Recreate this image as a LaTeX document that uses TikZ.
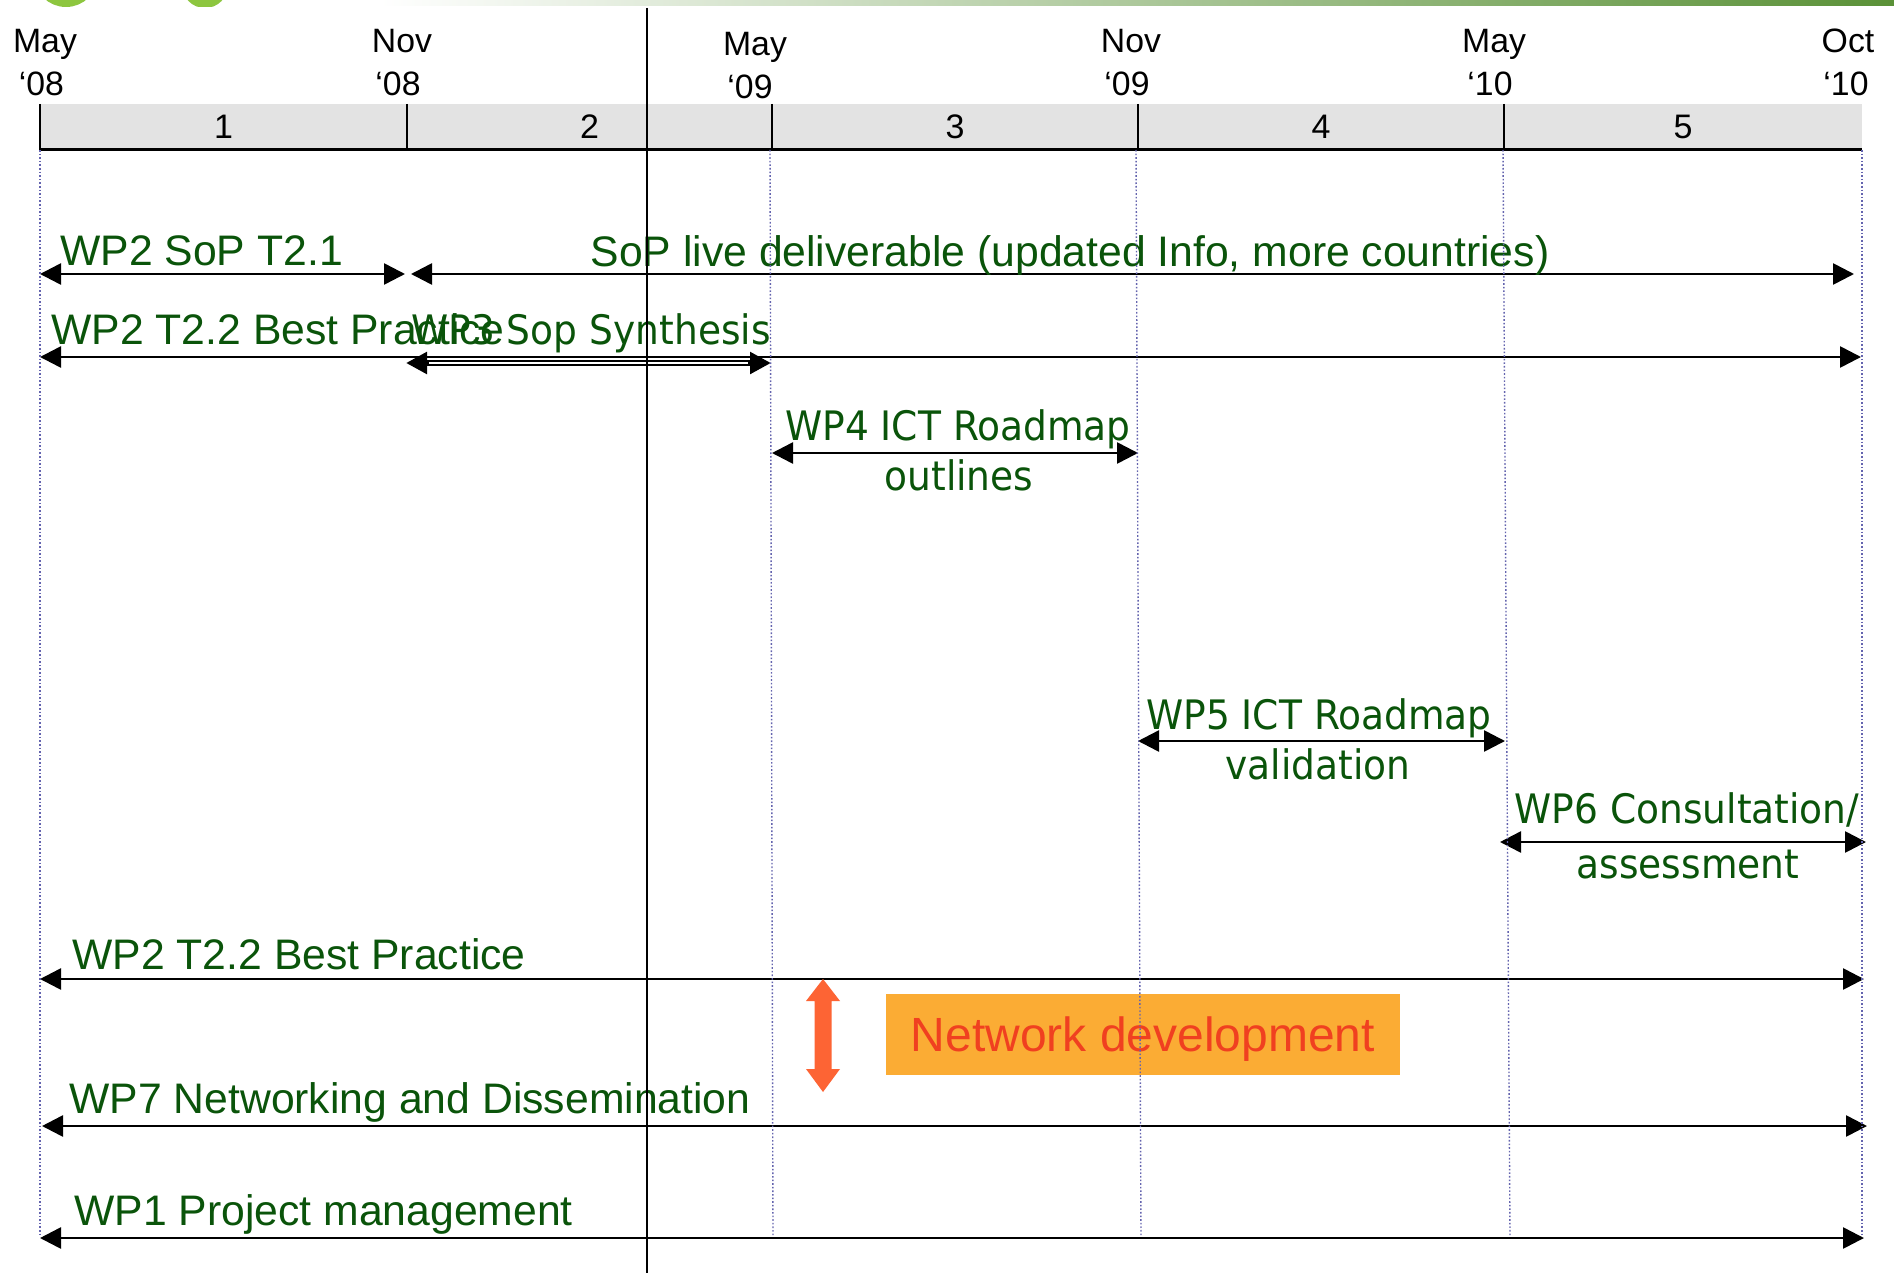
\documentclass[tikz,border=0pt]{standalone}
\usepackage{fontspec}
\setmainfont{Liberation Sans}
\newfontfamily\tahfont[FakeStretch=0.925]{DejaVu Sans}
\usetikzlibrary{arrows.meta}
\definecolor{wpgreen}{RGB}{10,84,10}
\definecolor{bargray}{RGB}{227,227,227}
\definecolor{dotblue}{RGB}{100,100,175}
\definecolor{boxorange}{RGB}{251,172,52}
\definecolor{netred}{RGB}{240,64,32}
\definecolor{blockorange}{RGB}{253,100,52}
\definecolor{bannergreen}{RGB}{90,145,55}
\definecolor{logogreen}{RGB}{141,198,63}
\begin{document}
\begin{tikzpicture}[x=0.5pt,y=-0.5pt,
  datelbl/.style={inner sep=0, anchor=base, font=\fontsize{16.9}{18}\selectfont},
  numlbl/.style={inner sep=0, font=\fontsize{17}{19}\selectfont},
  wplbl/.style={inner sep=0, anchor=base west, text=wpgreen, font=\fontsize{21.35}{24}\selectfont},
  wpclbl/.style={inner sep=0, anchor=base, text=wpgreen, font=\fontsize{21.35}{24}\selectfont},
  tahlbl/.style={inner sep=0, anchor=base, text=wpgreen, font=\tahfont\fontsize{20.3}{23}\selectfont},
  span/.style={line width=1.3pt, {Triangle[length=10.5pt,width=10.5pt]}-{Triangle[length=10.5pt,width=10.5pt]}},
  guide/.style={dotblue, line width=0.7pt, dash pattern=on 0.8pt off 1pt},
  divider/.style={black, line width=1pt},
]
\useasboundingbox (0,0) rectangle (1894,1273);
\fill[white] (0,0) rectangle (1894,1273);

% top banner fragment
\shade[left color=white, right color=bannergreen] (380,0) rectangle (1894,6);
\begin{scope}
  \clip (0,0) rectangle (400,7);
  \draw[logogreen, line width=4pt] (66,-25) circle[radius=28];
  \draw[logogreen, line width=4pt] (205,-15) circle[radius=19];
\end{scope}

% timeline bar
\fill[bargray] (40,104) rectangle (1862,150);
\draw[line width=1.5pt] (40,150) -- (1862,150);
\foreach \x in {40,407,772,1138,1504} \draw[divider] (\x,104) -- (\x,150);

\node[numlbl] (n1) at (223.5,127) {1};
\node[numlbl] (n2) at (589.5,127) {2};
\node[numlbl] (n3) at (955,127) {3};
\node[numlbl] (n4) at (1321,127) {4};
\node[numlbl] (n5) at (1683,127) {5};

% dates
\node[datelbl] (d1a) at (45,52.5) {May};
\node[datelbl] (d1b) at (41.5,96) {‘08};
\node[datelbl] (d2a) at (402,52.5) {Nov};
\node[datelbl] (d2b) at (398,96) {‘08};
\node[datelbl] (d3a) at (755,56) {May};
\node[datelbl] (d3b) at (750,98.5) {‘09};
\node[datelbl] (d4a) at (1131,52.5) {Nov};
\node[datelbl] (d4b) at (1127,96) {‘09};
\node[datelbl] (d5a) at (1494,52.5) {May};
\node[datelbl] (d5b) at (1490,96) {‘10};
\node[datelbl] (d6a) at (1848,52.5) {Oct};
\node[datelbl] (d6b) at (1846,96) {‘10};

% arrow end points
\coordinate (s1a) at (40,274);   \coordinate (s1b) at (405,274);
\coordinate (s2a) at (411,274);  \coordinate (s2b) at (1854,274);
\coordinate (b1a) at (40,357);   \coordinate (b1b) at (1861,357);
\coordinate (w3a) at (406,363);  \coordinate (w3b) at (771,363);
\coordinate (w4a) at (772,453);  \coordinate (w4b) at (1138,453);
\coordinate (w5a) at (1138,741); \coordinate (w5b) at (1505,741);
\coordinate (w6a) at (1500,842); \coordinate (w6b) at (1866,842);
\coordinate (b2a) at (40,979);   \coordinate (b2b) at (1864,979);
\coordinate (w7a) at (42,1126);  \coordinate (w7b) at (1867,1126);
\coordinate (w1a) at (40,1238);  \coordinate (w1b) at (1864,1238);

\draw[span] (s1a) -- (s1b);
\draw[span] (s2a) -- (s2b);
\draw[span] (b1a) -- (b1b);
\draw[span, line width=2.6pt] (w3a) -- (w3b);
\draw[white, line width=0.9pt, shorten <=11.5pt, shorten >=11.5pt] (w3a) -- (w3b);
\draw[span] (w4a) -- (w4b);
\draw[span] (w5a) -- (w5b);
\draw[span] (w6a) -- (w6b);
\draw[span] (b2a) -- (b2b);
\draw[span] (w7a) -- (w7b);
\draw[span] (w1a) -- (w1b);

% labels
\node[wplbl] (t1) at (60,265) {WP2 SoP T2.1};
\node[wpclbl] (t2) at (1070,266) {SoP live deliverable (updated Info, more countries)};
\node[wplbl] (t3) at (51,344) {WP2 T2.2 Best Practice};
\node[tahlbl, anchor=base west] (t4) at (411,344) {WP3 Sop Synthesis};
\node[tahlbl] (t5a) at (958,440) {WP4 ICT Roadmap};
\node[tahlbl] (t5b) at (959,490) {outlines};
\node[tahlbl] (t6a) at (1319,729) {WP5 ICT Roadmap};
\node[tahlbl] (t6b) at (1318,779) {validation};
\node[tahlbl] (t7a) at (1687,823) {WP6 Consultation/};
\node[tahlbl] (t7b) at (1688,878) {assessment};
\node[wplbl] (t8) at (72,969) {WP2 T2.2 Best Practice};
\node[wplbl] (t9) at (69,1113) {WP7 Networking and Dissemination};
\node[wplbl] (t10) at (74,1225) {WP1 Project management};

% network development
\node[fill=boxorange, minimum width=257pt, minimum height=40.5pt, inner sep=0,
      text height=17.2pt, text depth=0pt,
      text=netred, font=\fontsize{24}{28}\selectfont] (net) at (1143,1034.5) {Network development};
\fill[blockorange] (823,979) -- (840,1001) -- (831.5,1001) -- (831.5,1069) -- (840,1069)
  -- (823,1092) -- (806,1069) -- (814.5,1069) -- (814.5,1001) -- (806,1001) -- cycle;

% guides on top
\draw[guide] (40,150) -- (40,1237);
\draw[guide] (770,150) -- (773,1237);
\draw[guide] (1136,150) -- (1141,1237);
\draw[guide] (1503,150) -- (1510,1237);
\draw[guide] (1862,150) -- (1862,1237);
\draw[line width=1pt] (647,8) -- (647,1273);
\end{tikzpicture}
\end{document}
